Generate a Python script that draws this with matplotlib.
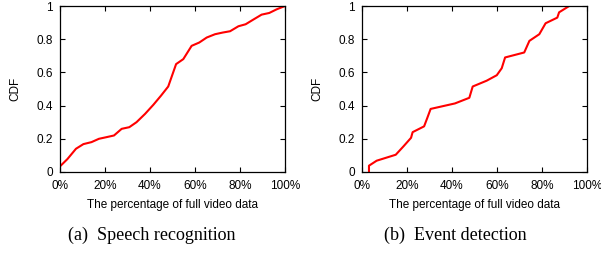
import matplotlib
matplotlib.use("Agg")
import matplotlib.pyplot as plt
from matplotlib.ticker import FuncFormatter

# (a) Speech recognition
speech_pct = [0, 3.3, 7.1, 10.4, 14, 17.3, 20.7, 24, 27.4, 30.8, 34, 37.8, 41.5, 44.9,
              48.1, 51.6, 54.8, 58.5, 61.9, 65.2, 68.9, 72.3, 75.6, 79.3, 82.5, 85.9,
              89.6, 93, 96.3, 100]
speech_cdf = [0.034, 0.078, 0.14, 0.168, 0.18, 0.20, 0.21, 0.22, 0.26, 0.27, 0.30, 0.35,
              0.405, 0.46, 0.515, 0.65, 0.68, 0.76, 0.78, 0.81, 0.83, 0.84, 0.848, 0.878,
              0.89, 0.918, 0.948, 0.958, 0.98, 1.0]

# (b) Event detection
event_pct = [3.1, 3.1, 6.5, 15, 18.4, 21.8, 22.5, 27.6, 29, 30.5, 41.3, 47.7, 49.2, 55.4,
             59.9, 62.1, 63.6, 72.1, 74.4, 78.8, 81.6, 86.8, 87.6, 92.1]
event_cdf = [0, 0.038, 0.068, 0.104, 0.154, 0.206, 0.24, 0.275, 0.325, 0.38, 0.413, 0.447,
             0.515, 0.55, 0.583, 0.625, 0.69, 0.72, 0.79, 0.83, 0.896, 0.93, 0.962, 1.0]

xticks = [0, 20, 40, 60, 80, 100]
yticks = [0, 0.2, 0.4, 0.6, 0.8, 1]
captions = ["(a)  Speech recognition", "(b)  Event detection"]

plt.rcParams['font.family'] = ['Liberation Sans', 'DejaVu Sans']

fig = plt.figure(figsize=(6.01, 2.54), dpi=100)

# left edge of axes (px), caption centre (px), data
panels = [(60, 152, speech_pct, speech_cdf), (362, 455, event_pct, event_cdf)]
for i, (left_px, cap_px, xs, ys) in enumerate(panels):
    ax = fig.add_axes([left_px / 601, 1 - 172 / 254, 225 / 601, 166 / 254])
    ax.plot(xs, ys, color='#ff0000', lw=1.5)
    ax.set_xlim(0, 100)
    ax.set_ylim(0, 1)
    ax.set_xticks(xticks)
    ax.set_yticks(yticks)
    ax.xaxis.set_major_formatter(FuncFormatter(lambda v, p: f"{int(v)}%"))
    ax.yaxis.set_major_formatter(FuncFormatter(lambda v, p: f"{v:g}"))
    ax.tick_params(direction='in', length=3.5, width=0.8, top=True, right=True,
                   labelsize=8.5)
    ax.tick_params(axis='x', pad=6)
    ax.tick_params(axis='y', pad=5)
    for s in ax.spines.values():
        s.set_linewidth(0.9)
    ax.set_xlabel("The percentage of full video data", fontsize=8.5, labelpad=5)
    ax.set_ylabel("CDF", fontsize=8.5, labelpad=11)
    fig.text(cap_px / 601, 1 - 235 / 254, captions[i], ha='center', va='center',
             fontsize=13, family=['Liberation Serif', 'DejaVu Serif'])

fig.savefig("out.png", dpi=100)
